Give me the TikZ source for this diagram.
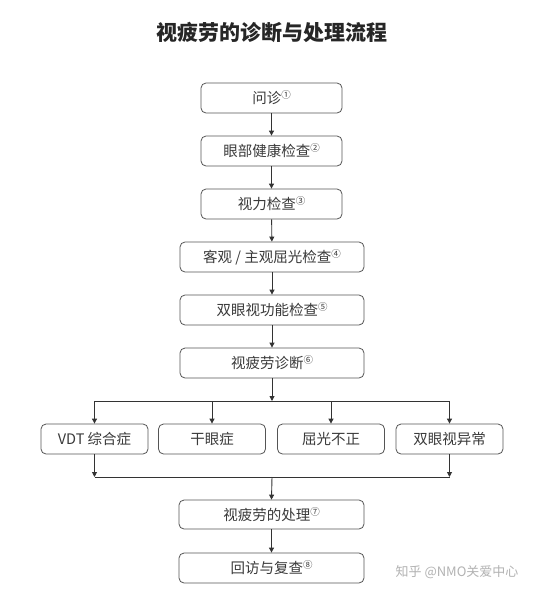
\documentclass[tikz,border=0pt]{standalone}
\usepackage{fontspec}
\setmainfont{Noto Sans CJK SC}
\usetikzlibrary{arrows.meta}
\definecolor{txt}{HTML}{3A3A3A}
\definecolor{edge}{HTML}{555555}
\definecolor{ln}{HTML}{333333}
\newcommand{\sn}[1]{{\fontsize{9.5}{9.5}\selectfont\raisebox{5pt}{#1}}}
\tikzset{
  box/.style={draw=edge, line width=0.8pt, rounded corners=5pt, fill=white,
    minimum height=30pt, inner sep=0pt, text=txt, font=\fontsize{14.5}{16}\selectfont},
  conn/.style={draw=ln, line width=0.9pt},
  arr/.style={conn, -{Triangle[length=5pt,width=5pt]}}
}
\begin{document}
\begin{tikzpicture}[x=1pt,y=-1pt]
\useasboundingbox[fill=white] (0,0) rectangle (546,595);
\node[text=black!85, font=\fontsize{21}{24}\selectfont\bfseries] (title) at (272,32) {视疲劳的诊断与处理流程};
\node[box, minimum width=141pt] (b1) at (271.5,98) {问诊\sn{①}};
\node[box, minimum width=141pt] (b2) at (271.5,151) {眼部健康检查\sn{②}};
\node[box, minimum width=141pt] (b3) at (271.5,204) {视力检查\sn{③}};
\node[box, minimum width=184pt] (b4) at (272,257) {客观 / 主观屈光检查\sn{④}};
\node[box, minimum width=184pt] (b5) at (272,310) {双眼视功能检查\sn{⑤}};
\node[box, minimum width=184pt] (b6) at (272,363) {视疲劳诊断\sn{⑥}};
\node[box, minimum width=107pt] (dA) at (94.5,439) {VDT 综合症};
\node[box, minimum width=107pt] (dB) at (212,439) {干眼症};
\node[box, minimum width=107pt] (dC) at (331,439) {屈光不正};
\node[box, minimum width=107pt] (dD) at (449.5,439) {双眼视异常};
\node[box, minimum width=185pt, minimum height=29pt] (b7) at (271.5,514.5) {视疲劳的处理\sn{⑦}};
\node[box, minimum width=185pt] (b8) at (271.5,568) {回访与复查\sn{⑧}};
\node[text=black!30, font=\fontsize{13}{15}\selectfont] (wm) at (457,572) {知乎 @NMO关爱中心};
\coordinate (j1) at (272,401);
\coordinate (j2) at (272,477);
\draw[arr] (b1) -- (b2);
\draw[arr] (b2) -- (b3);
\draw[arr] (b3) -- (b4);
\draw[arr] (b4) -- (b5);
\draw[arr] (b5) -- (b6);
\draw[arr] (b6.south) -- (j1);
\draw[conn] (dA.north |- j1) -- (dD.north |- j1);
\foreach \n in {dA,dB,dC,dD}{\draw[arr] (\n.north |- j1) -- (\n.north);}
\draw[arr] (dA.south) -- (dA.south |- j2);
\draw[arr] (dD.south) -- (dD.south |- j2);
\draw[conn] (dA.south |- j2) -- (dD.south |- j2);
\draw[arr] (j2) -- (b7.north);
\draw[arr] (b7) -- (b8);
\end{tikzpicture}
\end{document}
